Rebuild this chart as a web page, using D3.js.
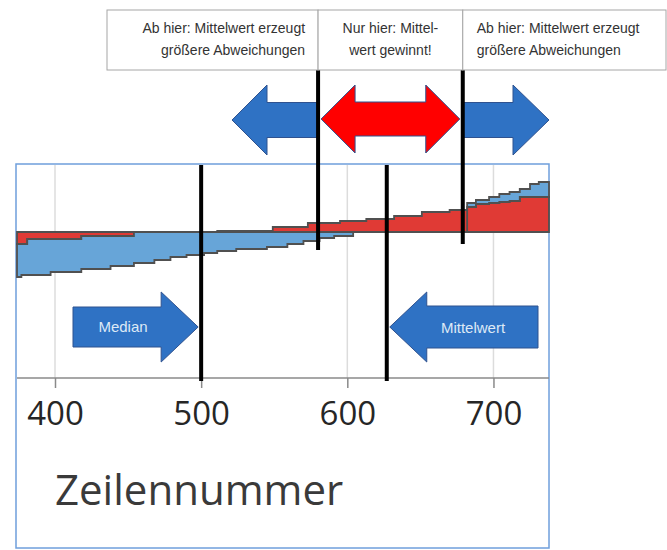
<!DOCTYPE html>
<html>
<head>
<meta charset="utf-8">
<script src="https://cdn.jsdelivr.net/npm/d3@7"></script>
<style>
  body { margin: 0; background: #fff; }
  svg { display: block; }
</style>
</head>
<body>
<div id="chart"></div>
<script>
// step data: start row of each step, value of each series (stacked, diverging)
const stepRows = [374, 377, 381, 397, 418, 438, 454, 468, 479, 490, 502, 511, 524, 545, 549, 559, 570, 573, 581, 591, 595, 604, 613, 632, 651, 670, 682, 688, 697, 704, 711, 718, 725, 731];
const redVals  = [-12, -12, -7, -7, -4, -4, 0, 0, 0, 0, 0, 1, 1, 1, 5, 5, 5, 9, 9, 9, 11, 11, 13, 16, 20, 22, 25, 28, 29, 30, 31, 35, 35, 35];
const blueVals = [-33, -31, -36, -33, -33, -30, -31, -28, -25, -23, -21, -19, -17, -15, -15, -12, -9, -9, -6, -4, -4, 0, 0, 0, 0, 0, 4, 4, 6, 8, 9, 8, 13, 15];
const lastRow = 738;

const tickValues = [400, 500, 600, 700];
const medianRow = 500;
const meanRow = 627;
const boundRows = [580, 679];

const boxTexts = [
  ["Ab hier: Mittelwert erzeugt", "größere Abweichungen"],
  ["Nur hier: Mittel-", "wert gewinnt!"],
  ["Ab hier: Mittelwert erzeugt", "größere Abweichungen"]
];

const width = 667, height = 550;
const plot = { left: 17, right: 549, top: 164, bottom: 378 };

const svg = d3.select("#chart").append("svg")
  .attr("width", width)
  .attr("height", height);

const x = d3.scaleLinear().domain([374, lastRow]).range([plot.left, plot.right]);
const y = d3.scaleLinear().domain([-146, 68]).range([plot.bottom, plot.top]);

// build rows for stacking (repeat last step to close the area)
const table = stepRows.map((r, i) => ({ row: r, red: redVals[i], blue: blueVals[i] }));
table.push({ row: lastRow, red: redVals[redVals.length - 1], blue: blueVals[blueVals.length - 1] });

const stack = d3.stack().keys(["red", "blue"]).offset(d3.stackOffsetDiverging);
const layers = stack(table);

// frame
svg.append("rect")
  .attr("x", 16).attr("y", plot.top)
  .attr("width", plot.right - 16).attr("height", 548 - plot.top)
  .attr("fill", "none")
  .attr("stroke", "#6f9fdc")
  .attr("stroke-width", 1.5);

// gridlines
svg.append("g")
  .selectAll("line")
  .data(tickValues)
  .enter().append("line")
  .attr("x1", d => x(d)).attr("x2", d => x(d))
  .attr("y1", plot.top + 1).attr("y2", plot.bottom)
  .attr("stroke", "#dcdcdc")
  .attr("stroke-width", 1.5);

const colors = { red: "#e03a35", blue: "#67a5d8" };

const area = d3.area()
  .curve(d3.curveStepAfter)
  .x(d => x(d.data.row))
  .y0(d => y(d[0]))
  .y1(d => y(d[1]));

svg.append("g")
  .selectAll("path")
  .data(layers)
  .enter().append("path")
  .attr("d", area)
  .attr("fill", d => colors[d.key])
  .attr("stroke", "#505050")
  .attr("stroke-width", 1.8)
  .attr("stroke-linejoin", "miter");

// x axis
const axis = svg.append("g")
  .attr("transform", `translate(0,${plot.bottom})`)
  .call(d3.axisBottom(x).tickValues(tickValues).tickSize(10).tickSizeOuter(0).tickPadding(14));
axis.select(".domain").attr("stroke", "#8a8a8a").attr("stroke-width", 1.5)
  .attr("d", `M${plot.left},0H${plot.right}`);
axis.selectAll(".tick line").attr("stroke", "#8a8a8a").attr("stroke-width", 1.5);
axis.selectAll(".tick text")
  .attr("fill", "#262626")
  .style("font-family", "'Open Sans', sans-serif")
  .style("font-size", "33px");

svg.append("text")
  .attr("x", 55).attr("y", 505)
  .attr("fill", "#3a3a3a")
  .style("font-family", "'Open Sans', sans-serif")
  .style("font-size", "42px")
  .text("Zeilennummer");

// arrow polygon: from tail (x0) to tip (x1), centred on cy
function arrowPath(x0, x1, cy, shaftHalf, headHalf, headLen) {
  const dir = Math.sign(x1 - x0);
  const hb = x1 - dir * headLen;
  return `M${x0},${cy - shaftHalf}L${hb},${cy - shaftHalf}L${hb},${cy - headHalf}L${x1},${cy}` +
    `L${hb},${cy + headHalf}L${hb},${cy + shaftHalf}L${x0},${cy + shaftHalf}Z`;
}
function doubleArrowPath(x0, x1, cy, shaftHalf, headHalf, headLen) {
  const a = x0 + headLen, b = x1 - headLen;
  return `M${x0},${cy}L${a},${cy - headHalf}L${a},${cy - shaftHalf}L${b},${cy - shaftHalf}L${b},${cy - headHalf}` +
    `L${x1},${cy}L${b},${cy + headHalf}L${b},${cy + shaftHalf}L${a},${cy + shaftHalf}L${a},${cy + headHalf}Z`;
}

const blueArrow = "#2f72c4", arrowEdge = "#2f528f";

// top arrows
const bx0 = x(boundRows[0]), bx1 = x(boundRows[1]);
svg.append("path")
  .attr("d", arrowPath(bx0, 232, 120, 17.5, 35, 35))
  .attr("fill", blueArrow).attr("stroke", arrowEdge).attr("stroke-width", 1);
svg.append("path")
  .attr("d", arrowPath(bx1, plot.right, 120, 17.5, 35, 36))
  .attr("fill", blueArrow).attr("stroke", arrowEdge).attr("stroke-width", 1);
svg.append("path")
  .attr("d", doubleArrowPath(bx0 + 3, bx1 - 3, 119, 17, 34, 34))
  .attr("fill", "#ff0000").attr("stroke", arrowEdge).attr("stroke-width", 1);

// median / mean arrows
const mx = x(medianRow), ax = x(meanRow);
svg.append("path")
  .attr("d", arrowPath(73, mx - 3, 327, 20, 35, 37))
  .attr("fill", blueArrow).attr("stroke", arrowEdge).attr("stroke-width", 1);
svg.append("path")
  .attr("d", arrowPath(538, ax + 3, 327, 21, 35, 37))
  .attr("fill", blueArrow).attr("stroke", arrowEdge).attr("stroke-width", 1);

svg.append("text")
  .attr("x", 123).attr("y", 332)
  .attr("text-anchor", "middle")
  .attr("fill", "#dde9f6")
  .style("font-family", "'Liberation Sans', Arial, sans-serif")
  .style("font-size", "15px")
  .text("Median");
svg.append("text")
  .attr("x", 473).attr("y", 333)
  .attr("text-anchor", "middle")
  .attr("fill", "#dde9f6")
  .style("font-family", "'Liberation Sans', Arial, sans-serif")
  .style("font-size", "15px")
  .text("Mittelwert");

// black marker lines
svg.append("g")
  .selectAll("line")
  .data([medianRow, meanRow])
  .enter().append("line")
  .attr("x1", d => x(d)).attr("x2", d => x(d))
  .attr("y1", plot.top + 1).attr("y2", plot.bottom + 3)
  .attr("stroke", "#000").attr("stroke-width", 4);

svg.append("g")
  .selectAll("line")
  .data(boundRows)
  .enter().append("line")
  .attr("x1", d => x(d)).attr("x2", d => x(d))
  .attr("y1", 70).attr("y2", (d, i) => i === 0 ? 250 : 244)
  .attr("stroke", "#000").attr("stroke-width", 4);

// text boxes on top
const boxEdges = [107, bx0, bx1, 666];
const boxes = svg.append("g");
boxTexts.forEach((lines, i) => {
  const x0 = boxEdges[i], x1 = boxEdges[i + 1];
  boxes.append("rect")
    .attr("x", x0).attr("y", 10)
    .attr("width", x1 - x0).attr("height", 60)
    .attr("fill", "#fff")
    .attr("stroke", "#a6a6a6")
    .attr("stroke-width", 1);
  const anchor = i === 0 ? "end" : i === 1 ? "middle" : "start";
  const tx = i === 0 ? x1 - 13 : i === 1 ? (x0 + x1) / 2 : x0 + 14;
  lines.forEach((t, j) => {
    boxes.append("text")
      .attr("x", tx).attr("y", 33 + j * 22)
      .attr("text-anchor", anchor)
      .attr("fill", "#333")
      .style("font-family", "'Liberation Sans', Arial, sans-serif")
      .style("font-size", "14px")
      .text(t);
  });
});
</script>
</body>
</html>
